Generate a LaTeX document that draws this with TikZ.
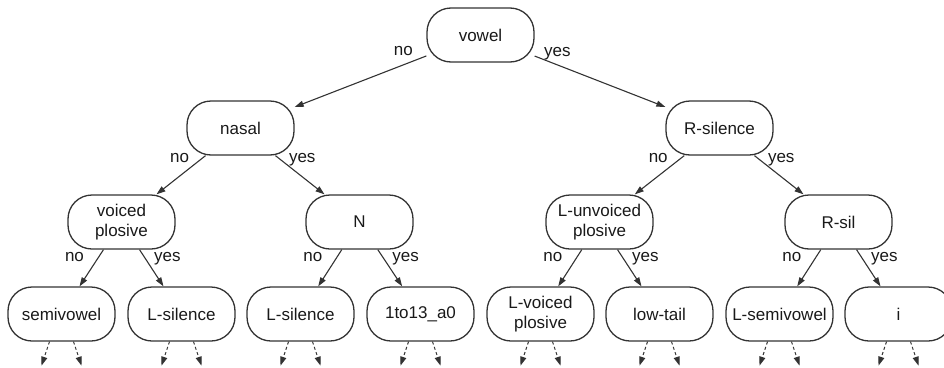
\documentclass[tikz,border=0pt]{standalone}
\usepackage{fontspec}
\setmainfont{Liberation Sans}
\usetikzlibrary{arrows.meta, positioning}

\begin{document}
\begin{tikzpicture}[
  font=\fontsize{17}{20}\selectfont,
  >={Triangle[length=9pt,width=6pt]},  % Arrow tip
  line width=1.1pt,
  % Define block styles
  testblock/.style={
    draw=black!80,
    line width=1.3pt,
    rounded corners=24pt,
    minimum width=107pt,
    minimum height=54pt,
    align=center,
    text=black!90,
    on grid
  },
  leafblock/.style={
    testblock
  },
  % Label styles
  answer/.style={
    text=black!90,
    inner sep=0pt,
    pos=0
  },
  nolevelone/.style={answer, anchor=base east, xshift=-13pt},
  yeslevelone/.style={answer, anchor=base west, xshift=9pt},
  noleveltwo/.style={answer, anchor=base east, xshift=-16pt, yshift=-7pt},
  yesleveltwo/.style={answer, anchor=base west, xshift=13pt, yshift=-7pt},
  nolevelthree/.style={answer, anchor=base east, xshift=-19pt, yshift=-12pt},
  yeslevelthree/.style={answer, anchor=base west, xshift=14pt, yshift=-12pt},
  % Arrows style
  connector/.style={
    ->,
    draw=black!80
  },
  stub/.style={
    ->,
    draw=black!80,
    line width=1pt,
    dash pattern=on 3pt off 2.5pt
  }
]

\useasboundingbox (0,0) rectangle (944pt,-367pt);

% -----------------------------------------------
% ROOT
% -----------------------------------------------
\node[testblock] (vowelTest) at (480.5pt,-35pt) {vowel};

% -----------------------------------------------
% SECOND LEVEL
% -----------------------------------------------
\node[testblock, below left=93pt and 240pt of vowelTest] (nasalTest) {nasal};
\node[testblock, below right=93pt and 239pt of vowelTest] (rSilence) {R-silence};

% -----------------------------------------------
% THIRD LEVEL
% -----------------------------------------------
\node[testblock, below left=94pt and 119pt of nasalTest] (voicedPlosive) {voiced\\plosive};
\node[testblock, below right=94pt and 119pt of nasalTest] (nTest) {N};
\node[testblock, below left=94pt and 120pt of rSilence] (lUnvoiced) {L-unvoiced\\plosive};
\node[testblock, below right=94pt and 119pt of rSilence] (rSil) {R-sil};

% -----------------------------------------------
% LEAVES
% -----------------------------------------------
\node[leafblock, below left=92pt and 60pt of voicedPlosive] (semivowelLeaf) {semivowel};
\node[leafblock, below right=92pt and 60pt of voicedPlosive] (lSilenceLeft) {L-silence};
\node[leafblock, below left=92pt and 59pt of nTest] (lSilenceRight) {L-silence};
\node[leafblock, below right=92pt and 61pt of nTest] (aZeroLeaf) {1to13\_a0};
\node[leafblock, below left=92pt and 59pt of lUnvoiced] (lVoicedPlosive) {L-voiced\\plosive};
\node[leafblock, below right=92pt and 60pt of lUnvoiced] (lowTail) {low-tail};
\node[leafblock, below left=92pt and 59pt of rSil] (lSemivowel) {L-semivowel};
\node[leafblock, below right=92pt and 60pt of rSil] (iLeaf) {i};

% -----------------------------------------------
% ARROWS AND CONNECTIONS
% -----------------------------------------------

% Root split
\draw[connector] (vowelTest) -- node[nolevelone] {no} (nasalTest);
\draw[connector] (vowelTest) -- node[yeslevelone] {yes} (rSilence);

% Second level splits
\draw[connector] (nasalTest) -- node[noleveltwo] {no} (voicedPlosive);
\draw[connector] (nasalTest) -- node[yesleveltwo] {yes} (nTest);
\draw[connector] (rSilence) -- node[noleveltwo] {no} (lUnvoiced);
\draw[connector] (rSilence) -- node[yesleveltwo] {yes} (rSil);

% Third level splits
\draw[connector] (voicedPlosive) -- node[nolevelthree] {no} (semivowelLeaf);
\draw[connector] (voicedPlosive) -- node[yeslevelthree] {yes} (lSilenceLeft);
\draw[connector] (nTest) -- node[nolevelthree] {no} (lSilenceRight);
\draw[connector] (nTest) -- node[yeslevelthree] {yes} (aZeroLeaf);
\draw[connector] (lUnvoiced) -- node[nolevelthree] {no} (lVoicedPlosive);
\draw[connector] (lUnvoiced) -- node[yeslevelthree] {yes} (lowTail);
\draw[connector] (rSil) -- node[nolevelthree] {no} (lSemivowel);
\draw[connector] (rSil) -- node[yeslevelthree] {yes} (iLeaf);

% Tree continues below each leaf
\foreach \leaf in {semivowelLeaf,lSilenceLeft,lSilenceRight,aZeroLeaf,lVoicedPlosive,lowTail,lSemivowel,iLeaf} {
  \coordinate (\leaf-l) at ([shift={(-20pt,-24pt)}]\leaf.south);
  \coordinate (\leaf-r) at ([shift={(20pt,-24pt)}]\leaf.south);
  \draw[stub] ([xshift=-12pt]\leaf.south) -- (\leaf-l);
  \draw[stub] ([xshift=12pt]\leaf.south) -- (\leaf-r);
}

\end{tikzpicture}
\end{document}
